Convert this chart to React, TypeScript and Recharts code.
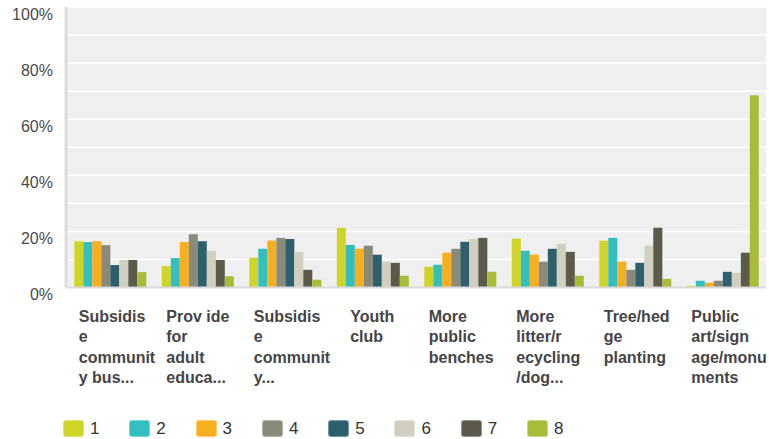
import React from "react";
import { BarChart, Bar, XAxis, YAxis, CartesianGrid } from "recharts";

const categories = [
  "Subsidise community bus...",
  "Provide for adult educa...",
  "Subsidise community...",
  "Youth club",
  "More public benches",
  "More litter/recycling/dog...",
  "Tree/hedge planting",
  "Public art/signage/monuments",
];

const categoryLines = [
  ["Subsidis", "e", "communit", "y bus..."],
  ["Prov ide", "for", "adult", "educa..."],
  ["Subsidis", "e", "communit", "y..."],
  ["Youth", "club"],
  ["More", "public", "benches"],
  ["More", "litter/r", "ecycling", "/dog..."],
  ["Tree/hed", "ge", "planting"],
  ["Public", "art/sign", "age/monu", "ments"],
];

const seriesNames = ["1", "2", "3", "4", "5", "6", "7", "8"];
const seriesColors = ["#CFD427", "#33BEC0", "#F7AE1F", "#898A78", "#2D5F6D", "#D0CFC0", "#5B5A4B", "#A9BC38"];

const s1 = [16.5, 7.6, 10.6, 21.3, 7.4, 17.4, 16.7, 0.6];
const s2 = [16.2, 10.5, 13.8, 15.2, 8.1, 13.1, 17.7, 2.4];
const s3 = [16.5, 16.2, 16.7, 13.8, 12.4, 11.7, 9.2, 1.7];
const s4 = [15.1, 19.0, 17.7, 14.9, 13.8, 9.2, 6.3, 2.4];
const s5 = [8.0, 16.5, 17.3, 11.7, 16.3, 13.8, 8.8, 5.6];
const s6 = [9.8, 13.0, 12.7, 9.2, 17.3, 15.6, 14.9, 5.2];
const s7 = [9.8, 9.8, 6.3, 8.8, 17.7, 12.7, 21.3, 12.4];
const s8 = [5.5, 4.0, 2.8, 4.2, 5.6, 4.2, 3.1, 68.5];

const seriesValues = [s1, s2, s3, s4, s5, s6, s7, s8];

const yTicks = [0, 10, 20, 30, 40, 50, 60, 70, 80, 90, 100];

const data = categories.map((c, i) => {
  const row: Record<string, any> = { name: c, idx: i };
  seriesNames.forEach((s, j) => {
    row["s" + s] = seriesValues[j][i];
  });
  return row;
});

const LABEL_FONT = "bold 16px 'Liberation Sans', Arial, sans-serif";
let ctx: CanvasRenderingContext2D | null = null;
function measure(t: string): number {
  if (typeof document === "undefined") return t.length * 8;
  if (!ctx) ctx = document.createElement("canvas").getContext("2d");
  if (!ctx) return t.length * 8;
  ctx.font = LABEL_FONT;
  return ctx.measureText(t).width;
}

const XTick = (props: any) => {
  const { x, y, payload } = props;
  const lines = categoryLines[payload.index] || [String(payload.value)];
  const w = Math.min(62, Math.max(...lines.map(measure)));
  const left = x - w / 2;
  return (
    <text
      x={left}
      y={y}
      textAnchor="start"
      fill="#454545"
      style={{ font: LABEL_FONT }}
    >
      {lines.map((l, i) => (
        <tspan key={i} x={left} y={y + 34 + i * 20.6}>
          {l}
        </tspan>
      ))}
    </text>
  );
};

const YTick = (props: any) => {
  const { y, payload } = props;
  if (payload.value % 20 !== 0) return null;
  return (
    <text
      x={53}
      y={y + 12.7}
      textAnchor="end"
      fill="#4a4a4a"
      style={{ fontFamily: "'Liberation Sans', Arial, sans-serif", fontSize: 16 }}
    >
      {payload.value + "%"}
    </text>
  );
};

export default function App() {
  return (
    <div style={{ position: "absolute", left: 0, top: 0, width: 769, height: 439, background: "#fff" }}>
      <BarChart
        width={769}
        height={439}
        data={data}
        margin={{ top: 7, right: 3, left: 0, bottom: 41.5 }}
        barCategoryGap="9.5%"
        barGap={0}
      >
        <CartesianGrid
          vertical={false}
          horizontal={true}
          stroke="#ffffff"
          strokeWidth={1.5}
          fill="#efefef"
          fillOpacity={1}
        />
        <XAxis
          dataKey="name"
          height={110}
          interval={0}
          tickLine={false}
          tickSize={0}
          tickMargin={0}
          axisLine={{ stroke: "#d9d9d9", strokeWidth: 2 }}
          tick={<XTick />}
        />
        <YAxis
          width={66}
          domain={[0, 100]}
          ticks={yTicks}
          interval={0}
          tickLine={false}
          axisLine={{ stroke: "#dcdcdc", strokeWidth: 3 }}
          tick={<YTick />}
        />
        {seriesNames.map((s, j) => (
          <Bar key={s} dataKey={"s" + s} name={s} fill={seriesColors[j]} isAnimationActive={false} />
        ))}
      </BarChart>
      <div
        style={{
          position: "absolute",
          left: 63,
          top: 420,
          display: "flex",
          fontFamily: "'Liberation Sans', Arial, sans-serif",
          fontSize: 17,
          color: "#333",
        }}
      >
        {seriesNames.map((s, j) => (
          <div key={s} style={{ width: 66.3, display: "flex", alignItems: "center", height: 17 }}>
            <div
              style={{
                width: 21,
                height: 17,
                borderRadius: 3,
                background: seriesColors[j],
                boxSizing: "border-box",
                border: "1px solid rgba(255,255,255,0.35)",
              }}
            />
            <span style={{ marginLeft: 6, lineHeight: "17px" }}>{s}</span>
          </div>
        ))}
      </div>
    </div>
  );
}
